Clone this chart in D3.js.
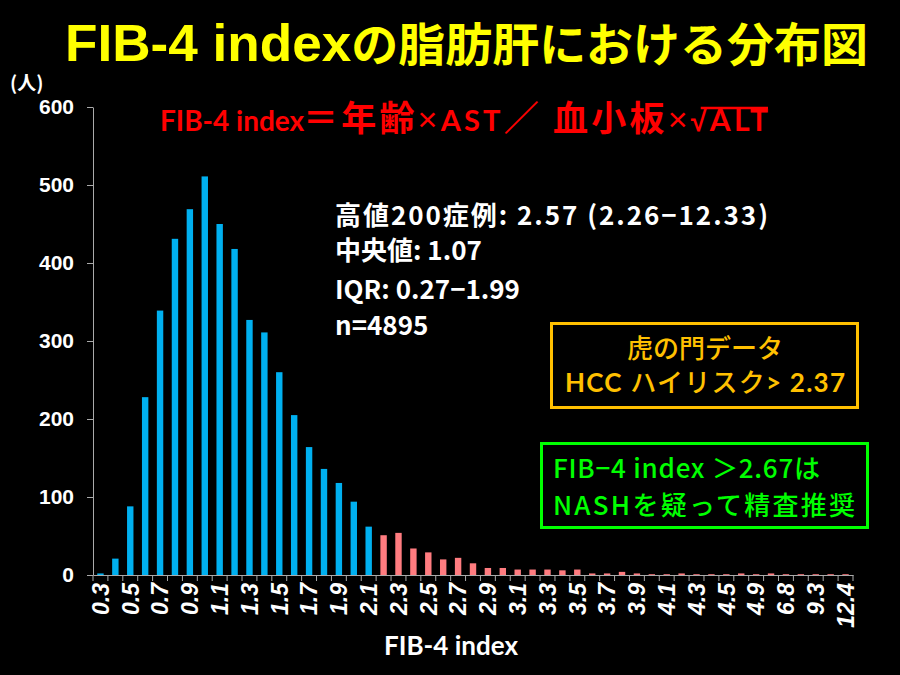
<!DOCTYPE html>
<html><head><meta charset="utf-8">
<script src="https://cdn.jsdelivr.net/npm/d3@7"></script>
<style>html,body{margin:0;padding:0;background:#000;}svg{display:block;}</style>
</head><body>
<svg id="c" width="900" height="675"></svg>
<script>
// ---- data ----
const categories = ["0.3","0.4","0.5","0.6","0.7","0.8","0.9","1.0","1.1","1.2",
  "1.3","1.4","1.5","1.6","1.7","1.8","1.9","2.0","2.1",
  "2.2","2.3","2.4","2.5","2.6","2.7","2.8","2.9","3.0","3.1","3.2","3.3","3.4","3.5",
  "3.6","3.7","3.8","3.9","4.0","4.1","4.2","4.3","4.4","4.5",
  "4.7","4.9","5.6","6.8","8.0","9.3","10.6","12.4"];
const counts = [2,21,88,228,339,431,469,511,450,418,
  327,311,260,205,164,136,118,94,62,
  51,54,34,29,20,22,15,9,9,7,7,7,6,7,
  2,2,4,2,1,1,2,1,1,1,
  2,1,2,1,1,1,1,1];
const tickLabels = ["0.3","0.5","0.7","0.9","1.1","1.3","1.5","1.7","1.9","2.1","2.3","2.5","2.7",
  "2.9","3.1","3.3","3.5","3.7","3.9","4.1","4.3","4.5","4.9","6.8","9.3","12.4"];
const highCategories = categories.slice(categories.indexOf("2.2"));
const yTicks = [0,100,200,300,400,500,600];
const statsLines = ["高値200症例: 2.57 (2.26−12.33)", "中央値: 1.07", "IQR: 0.27−1.99", "n=4895"];

// ---- chart ----
const svg = d3.select("#c");
svg.append("rect").attr("width",900).attr("height",675).attr("fill","#000");

const CJK = "'Noto Sans CJK JP', sans-serif";
const LAT = "Lato, 'Noto Sans CJK JP', sans-serif";
const ARIAL = "'Liberation Sans', Arial, sans-serif";

const x = d3.scaleBand().domain(categories).range([93, 853]).paddingInner(0.57).paddingOuter(0.285);
const y = d3.scaleLinear().domain([0, 600]).range([575, 107]);

// title
const title = svg.append("text").attr("x", 65).attr("y", 61).attr("fill", "#FFFF00")
  .attr("font-weight", "bold").attr("textLength", 803).attr("lengthAdjust", "spacingAndGlyphs");
title.append("tspan").attr("font-family", ARIAL).attr("font-size", 52).text("FIB-4 index");
title.append("tspan").attr("font-family", CJK).attr("font-size", 46).text("の脂肪肝における分布図");

// unit
svg.append("text").attr("x", 10).attr("y", 90).attr("fill", "#fff").attr("font-family", CJK)
  .attr("font-weight", "bold").attr("font-size", 19).text("(人)");

// bars
svg.append("g").selectAll("rect").data(categories).join("rect")
  .attr("x", d => x(d)).attr("width", x.bandwidth())
  .attr("y", (d, i) => y(counts[i])).attr("height", (d, i) => y(0) - y(counts[i]))
  .attr("fill", d => highCategories.includes(d) ? "#FF7C80" : "#00B0F0");

// y axis
const yAx = svg.append("g").attr("transform", "translate(93,0)")
  .call(d3.axisLeft(y).tickValues(yTicks).tickSize(6).tickPadding(13).tickSizeOuter(0));
yAx.select(".domain").attr("stroke", "#aaa");
yAx.selectAll(".tick line").attr("stroke", "#aaa");
yAx.selectAll(".tick text").attr("fill", "#fff").attr("font-family", ARIAL)
  .attr("font-weight", "bold").attr("font-size", 21);

// x axis (labels)
const xAx = svg.append("g").attr("transform", "translate(0,575)")
  .call(d3.axisBottom(x).tickValues(tickLabels).tickSize(0).tickSizeOuter(0));
xAx.select(".domain").attr("stroke", "#aaa");
xAx.selectAll(".tick text").attr("fill", "#fff").attr("font-family", ARIAL)
  .attr("font-weight", "bold").attr("font-style", "italic").attr("font-size", 23)
  .attr("text-anchor", "end").attr("transform", "translate(0,8) rotate(-90)")
  .attr("x", 0).attr("y", 0).attr("dy", "0.36em");
// boundary ticks between categories
const bounds = categories.map(c => x(c) + x.bandwidth() / 2 - x.step() / 2);
bounds.push(x.range()[1]);
svg.append("g").selectAll("line").data(bounds).join("line")
  .attr("x1", d => d).attr("x2", d => d).attr("y1", 575).attr("y2", 581)
  .attr("stroke", "#aaa");

// x axis title
svg.append("text").attr("x", 451).attr("y", 655).attr("text-anchor", "middle").attr("fill", "#fff")
  .attr("font-family", LAT).attr("font-weight", "bold").attr("font-size", 26).text("FIB-4 index");

// formula (two parts)
svg.append("text").attr("x", 160).attr("y", 131).attr("fill", "#FF0000")
  .attr("font-family", LAT).attr("font-weight", "bold").attr("font-size", 28).text("FIB-4 index");
const fm = svg.append("text").attr("x", 303).attr("y", 131).attr("fill", "#FF0000")
  .attr("font-weight", "bold").attr("textLength", 465).attr("lengthAdjust", "spacing");
const segs = [["＝年齢", CJK, 35, "bold"], ["×", ARIAL, 34, "normal"],
  ["AST", LAT, 29, "bold"], ["／ 血小板", CJK, 35, "bold"], ["×", ARIAL, 34, "normal"],
  ["√", ARIAL, 29, "bold"], ["ALT", LAT, 30, "bold"]];
segs.forEach(s => fm.append("tspan").attr("font-family", s[1]).attr("font-size", s[2])
  .attr("font-weight", s[3]).text(s[0]));
const full = segs.map(s => s[0]).join("");
const fnode = fm.node();
const altStart = full.indexOf("ALT");
const sq = fnode.getStartPositionOfChar(altStart - 1).x;
const sqEnd = fnode.getEndPositionOfChar(full.length - 1).x;
svg.append("line").attr("x1", sq + 10).attr("x2", sqEnd).attr("y1", 108).attr("y2", 108)
  .attr("stroke", "#FF0000").attr("stroke-width", 2.5);

// stats
const statY = [225, 260, 299, 335];
svg.append("g").selectAll("text").data(statsLines).join("text")
  .attr("x", 335).attr("y", (d, i) => statY[i]).attr("fill", "#fff")
  .attr("font-family", CJK).attr("font-weight", "bold").attr("font-size", 26)
  .each(function(d, i) { if (i === 0) d3.select(this).attr("textLength", 433); })
  .text(d => d);

// orange box
svg.append("rect").attr("x", 551.5).attr("y", 323.5).attr("width", 306).attr("height", 84)
  .attr("fill", "none").attr("stroke", "#FFC000").attr("stroke-width", 3);
svg.append("text").attr("x", 705).attr("y", 358).attr("text-anchor", "middle").attr("fill", "#FFC000")
  .attr("font-family", CJK).attr("font-weight", 500).attr("font-size", 26).text("虎の門データ");
const hcc = svg.append("text").attr("x", 565).attr("y", 392).attr("fill", "#FFC000")
  .attr("font-weight", "bold").attr("textLength", 280).attr("lengthAdjust", "spacing");
hcc.append("tspan").attr("font-family", LAT).attr("font-size", 26).text("HCC ");
hcc.append("tspan").attr("font-family", CJK).attr("font-size", 26).attr("font-weight", 500).text("ハイリスク");
hcc.append("tspan").attr("font-family", LAT).attr("font-size", 26).text("> 2.37");

// green box
svg.append("rect").attr("x", 541.5).attr("y", 443.5).attr("width", 326).attr("height", 84)
  .attr("fill", "none").attr("stroke", "#00FF00").attr("stroke-width", 3);
const greenLines = ["FIB−4 index ＞2.67は", "NASHを疑って精査推奨"];
svg.append("g").selectAll("text").data(greenLines).join("text")
  .attr("x", 553).attr("y", (d, i) => [478, 515][i]).attr("fill", "#00FF00")
  .attr("font-family", CJK).attr("font-weight", 500).attr("font-size", 26)
  .attr("textLength", (d, i) => [267, 302][i]).attr("lengthAdjust", "spacing")
  .text(d => d);
</script>
</body></html>
